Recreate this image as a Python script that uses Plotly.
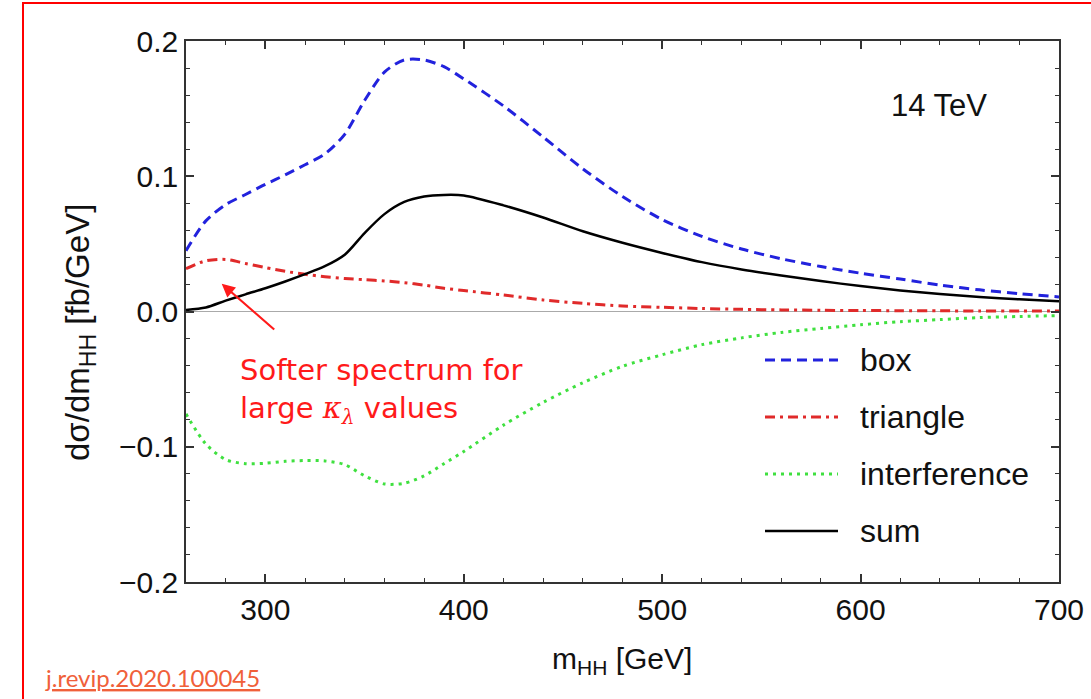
import plotly.graph_objects as go

# Invariant-mass grid (GeV)
m_hh = [260, 270, 280, 290, 300, 310, 320, 330, 340, 350, 360, 370, 380, 390, 400,
        420, 440, 460, 480, 500, 520, 540, 560, 580, 600, 620, 640, 660, 680, 700]

# dσ/dm_HH contributions (fb/GeV)
box = [0.045, 0.067, 0.079, 0.0865, 0.094, 0.101, 0.1085, 0.1165, 0.131, 0.156, 0.177, 0.186,
       0.186, 0.181, 0.172, 0.152, 0.129, 0.1055, 0.085, 0.068, 0.0555, 0.0462, 0.039, 0.0332,
       0.0283, 0.024, 0.0195, 0.016, 0.0132, 0.0108]
triangle = [0.0316, 0.0375, 0.0385, 0.0355, 0.0325, 0.0297, 0.0275, 0.0257, 0.0244, 0.0235,
            0.0226, 0.0213, 0.0195, 0.0172, 0.0155, 0.0122, 0.0085, 0.006, 0.0041, 0.0031,
            0.0022, 0.0016, 0.0012, 0.0009, 0.0007, 0.0006, 0.0005, 0.0004, 0.0004, 0.0003]
interference = [-0.0757, -0.098, -0.1095, -0.1125, -0.1122, -0.1108, -0.1102, -0.1105, -0.1132,
                -0.1215, -0.1275, -0.127, -0.1215, -0.1125, -0.1035, -0.084, -0.0672, -0.0527,
                -0.0405, -0.032, -0.0245, -0.0195, -0.0155, -0.0125, -0.0098, -0.0075, -0.006,
                -0.0045, -0.0037, -0.003]
total = [0.0012, 0.003, 0.008, 0.0127, 0.0172, 0.0222, 0.0276, 0.0335, 0.042, 0.058, 0.072,
         0.081, 0.085, 0.0862, 0.0858, 0.0785, 0.0695, 0.0593, 0.0508, 0.0433, 0.0365, 0.0311,
         0.0266, 0.0225, 0.0188, 0.0156, 0.0129, 0.0107, 0.009, 0.0076]

series_names = ["box", "triangle", "interference", "sum"]
x_ticks = [300, 400, 500, 600, 700]
y_ticks = [-0.2, -0.1, 0.0, 0.1, 0.2]

# Canvas / plot-area geometry in pixels
W, H = 1091, 699
L, R, T, B = 186, 32, 41, 117
PW, PH = W - L - R, H - T - B


def px(x):
    return (x - L) / PW


def py(y):
    return (H - B - y) / PH


styles = [
    dict(color="#2222dd", width=3, dash="10px,6px"),
    dict(color="#e02a2a", width=3, dash="10px,5px,3px,5px"),
    dict(color="#3fe03f", width=3, dash="3px,5px"),
    dict(color="#000000", width=2.5, dash="solid"),
]

fig = go.Figure()
for name, vals, st in zip(series_names, [box, triangle, interference, total], styles):
    fig.add_trace(go.Scatter(x=m_hh, y=vals, mode="lines", name=name,
                             line=dict(shape="spline", smoothing=0.8, **st),
                             showlegend=False))

tick_font = dict(family="Liberation Sans, Arial, sans-serif", size=30, color="#111")

fig.update_xaxes(range=[260, 700], tickvals=x_ticks, ticks="inside", ticklen=8, tickwidth=1.5,
                 tickcolor="#333", showline=True, linecolor="#333", linewidth=1.5,
                 mirror="ticks", showgrid=False, zeroline=False, tickfont=tick_font,
                 minor=dict(dtick=20, ticks="inside", ticklen=4, tickwidth=1.2, tickcolor="#333"))
fig.update_yaxes(range=[-0.2, 0.2], tickvals=y_ticks, tickformat=".1f", ticks="inside",
                 ticklen=8, tickwidth=1.5, tickcolor="#333", showline=True, linecolor="#333",
                 linewidth=1.5, mirror="ticks", showgrid=False, zeroline=True,
                 zerolinecolor="#aaaaaa", zerolinewidth=1, tickfont=tick_font,
                 minor=dict(dtick=0.02, ticks="inside", ticklen=4, tickwidth=1.2, tickcolor="#333"))

shapes = []
annotations = []

# Legend drawn as sample lines with labels
legend_rows = [360, 417, 474, 531]
for name, st, yrow in zip(series_names, styles, legend_rows):
    shapes.append(dict(type="line", xref="paper", yref="paper",
                       x0=px(765), x1=px(838), y0=py(yrow), y1=py(yrow),
                       line=dict(color=st["color"], width=st["width"], dash=st["dash"])))
    annotations.append(dict(xref="paper", yref="paper", x=px(858), y=py(yrow),
                            xanchor="left", yanchor="middle", showarrow=False, text=name,
                            font=dict(family="Liberation Sans, Arial, sans-serif", size=32,
                                      color="#111")))

# Energy label
annotations.append(dict(xref="paper", yref="paper", x=px(889), y=py(106), xanchor="left",
                        yanchor="middle", showarrow=False, text="14 TeV",
                        font=dict(family="Liberation Sans, Arial, sans-serif", size=31,
                                  color="#111")))

# Axis titles
annotations.append(dict(xref="paper", yref="paper", x=px(622), y=py(660), xanchor="center",
                        yanchor="middle", showarrow=False, text="m<sub>HH</sub> [GeV]",
                        font=dict(family="Liberation Sans, Arial, sans-serif", size=30,
                                  color="#111")))
annotations.append(dict(xref="paper", yref="paper", x=px(80), y=py(333), xanchor="center",
                        yanchor="middle", showarrow=False, textangle=-90,
                        text="dσ/dm<sub>HH</sub> [fb/GeV]",
                        font=dict(family="Liberation Sans, Arial, sans-serif", size=33,
                                  color="#111")))

# Arrow and note on the triangle contribution
annotations.append(dict(x=278, y=0.0205, xref="x", yref="y", ax=54, ay=47, showarrow=True,
                        arrowhead=2, arrowsize=1.2, arrowwidth=2.2, arrowcolor="#ff1a1a",
                        text=""))
annotations.append(dict(xref="paper", yref="paper", x=px(238), y=py(391), xanchor="left",
                        yanchor="middle", showarrow=False, align="left",
                        text="Softer spectrum for<br>large <span style='font-family:DejaVu Serif'>"
                             "<i>κ</i><sub><i>λ</i></sub></span> values",
                        font=dict(family="DejaVu Sans, sans-serif", size=29, color="#ff1a1a")))

# Reference link
annotations.append(dict(xref="paper", yref="paper", x=px(43), y=py(694), xanchor="left",
                        yanchor="bottom", showarrow=False, text="j.revip.2020.100045",
                        font=dict(family="Lato, sans-serif", size=24, color="#f0603a",
                                  lineposition="under")))

# Slide frame
shapes.append(dict(type="rect", xref="paper", yref="paper", x0=px(23), x1=px(1096),
                   y0=py(3), y1=py(706), line=dict(color="#ff0000", width=2),
                   fillcolor="rgba(0,0,0,0)", layer="below"))

fig.update_layout(width=W, height=H, margin=dict(l=L, r=R, t=T, b=B, autoexpand=False),
                  paper_bgcolor="white", plot_bgcolor="white", shapes=shapes,
                  annotations=annotations, showlegend=False)

fig.write_html("out.html")
